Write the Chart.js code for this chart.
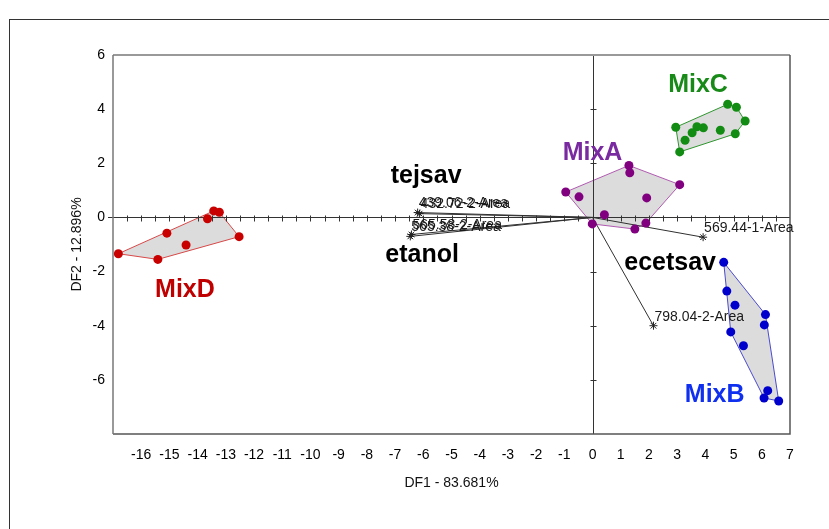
<!DOCTYPE html>
<html>
<head>
<meta charset="utf-8">
<script src="https://cdn.jsdelivr.net/npm/chart.js@4.4.1/dist/chart.umd.min.js"></script>
<style>
  html, body { margin: 0; padding: 0; background: #fff; overflow: hidden; }
  #frame { position: absolute; left: 9px; top: 19px; width: 900px; height: 600px;
           border-left: 1px solid #333; border-top: 1px solid #333; }
  canvas { position: absolute; left: 0; top: 0; }
</style>
</head>
<body>
<div id="frame"></div>
<canvas id="c" width="829" height="529"></canvas>
<script>
// Discriminant scores (DF1, DF2) per mixture
const mixA_x = [1.29, 1.32, 3.09, -0.95, -0.48, 1.92, 0.42, -0.01, 1.89, 1.50];
const mixA_y = [1.92, 1.65, 1.21, 0.94, 0.76, 0.72, 0.10, -0.24, -0.21, -0.43];

const mixB_x = [4.65, 4.76, 5.05, 6.13, 6.09, 4.90, 5.35, 6.21, 6.08, 6.60];
const mixB_y = [-1.66, -2.72, -3.24, -3.59, -3.97, -4.23, -4.74, -6.40, -6.67, -6.78];

const mixC_x = [4.79, 5.10, 5.41, 2.95, 5.06, 4.53, 3.93, 3.70, 3.53, 3.28, 3.09];
const mixC_y = [4.18, 4.07, 3.56, 3.33, 3.09, 3.22, 3.31, 3.35, 3.13, 2.85, 2.42];

const mixD_x = [-16.81, -15.41, -15.09, -14.41, -13.65, -13.43, -13.23, -12.53];
const mixD_y = [-1.34, -1.55, -0.58, -1.02, -0.05, 0.24, 0.19, -0.71];

// Variable loadings (biplot vectors)
const loadingNames = ['439.06-2-Area', '432.72-2-Area', '565.38-2-Area', '565.58-2-Area', '569.44-1-Area', '798.04-2-Area'];
const loadingX = [-6.20, -6.13, -6.46, -6.42, 3.92, 2.16];
const loadingY = [0.18, 0.14, -0.70, -0.63, -0.73, -4.00];

// Axis ticks
const xTicks = [-16, -15, -14, -13, -12, -11, -10, -9, -8, -7, -6, -5, -4, -3, -2, -1, 0, 1, 2, 3, 4, 5, 6, 7];
const yTicks = [-6, -4, -2, 0, 2, 4, 6];

const groupNames = ['MixA', 'MixB', 'MixC', 'MixD'];
const variableNames = ['tejsav', 'etanol', 'ecetsav'];

// Styling per group
const groupStyle = {
  MixA: { point: '#800080', edge: '#b05ab0', text: '#7a2aa0' },
  MixB: { point: '#0000cc', edge: '#4a4ad0', text: '#1030f0' },
  MixC: { point: '#128c12', edge: '#2e962e', text: '#188a18' },
  MixD: { point: '#c80000', edge: '#d84848', text: '#c00000' }
};

// Where the group / variable names are written (in axis units)
const nameAnchors = {
  MixA: [0.0, 2.38], MixB: [4.33, -6.56], MixC: [3.74, 4.89], MixD: [-14.45, -2.68],
  tejsav: [-5.90, 1.53], etanol: [-6.04, -1.39], ecetsav: [2.75, -1.70]
};

const groupData = {
  MixA: [mixA_x, mixA_y], MixB: [mixB_x, mixB_y], MixC: [mixC_x, mixC_y], MixD: [mixD_x, mixD_y]
};

function toPoints(xs, ys) { return xs.map((v, i) => ({ x: v, y: ys[i] })); }

// Monotone-chain convex hull
function convexHull(pts) {
  const p = pts.slice().sort((a, b) => a.x - b.x || a.y - b.y);
  const cross = (o, a, b) => (a.x - o.x) * (b.y - o.y) - (a.y - o.y) * (b.x - o.x);
  const lower = [], upper = [];
  for (const q of p) { while (lower.length >= 2 && cross(lower[lower.length - 2], lower[lower.length - 1], q) <= 0) lower.pop(); lower.push(q); }
  for (let i = p.length - 1; i >= 0; i--) { const q = p[i]; while (upper.length >= 2 && cross(upper[upper.length - 2], upper[upper.length - 1], q) <= 0) upper.pop(); upper.push(q); }
  upper.pop(); lower.pop();
  return lower.concat(upper);
}

const FONT = '"Liberation Sans", Arial, sans-serif';

const biplotDecor = {
  id: 'biplotDecor',
  beforeDatasetsDraw(chart) {
    const { ctx, chartArea: a, scales: { x, y } } = chart;
    ctx.save();
    // group hulls
    groupNames.forEach(g => {
      const hull = convexHull(toPoints(groupData[g][0], groupData[g][1]));
      ctx.beginPath();
      hull.forEach((p, i) => {
        const px = x.getPixelForValue(p.x), py = y.getPixelForValue(p.y);
        if (i) ctx.lineTo(px, py); else ctx.moveTo(px, py);
      });
      ctx.closePath();
      ctx.fillStyle = '#dcdcdc';
      ctx.fill();
      ctx.strokeStyle = groupStyle[g].edge;
      ctx.lineWidth = 1;
      ctx.stroke();
    });
    // zero axes
    const x0 = Math.round(x.getPixelForValue(0)) + 0.5;
    const y0 = Math.round(y.getPixelForValue(0)) + 0.5;
    ctx.strokeStyle = '#333';
    ctx.lineWidth = 1;
    ctx.beginPath();
    ctx.moveTo(a.left - 5, y0); ctx.lineTo(a.right, y0);
    ctx.moveTo(x0, a.top); ctx.lineTo(x0, a.bottom);
    ctx.stroke();
    // minor ticks along the zero lines
    ctx.beginPath();
    for (let v = x.min + 0.5; v < x.max; v += 0.5) {
      const px = Math.round(x.getPixelForValue(v)) + 0.5;
      ctx.moveTo(px, y0 - 2); ctx.lineTo(px, y0 + 4);
    }
    yTicks.forEach(v => {
      if (v === 0) return;
      const py = Math.round(y.getPixelForValue(v)) + 0.5;
      ctx.moveTo(x0 - 3, py); ctx.lineTo(x0 + 3, py);
    });
    ctx.stroke();
    // loading vectors
    ctx.strokeStyle = '#303030';
    ctx.beginPath();
    loadingX.forEach((v, i) => {
      ctx.moveTo(x.getPixelForValue(0), y.getPixelForValue(0));
      ctx.lineTo(x.getPixelForValue(v), y.getPixelForValue(loadingY[i]));
    });
    ctx.stroke();
    ctx.restore();
  },
  afterDraw(chart) {
    const { ctx, chartArea: a, scales: { x, y } } = chart;
    ctx.save();
    // plot frame
    ctx.lineWidth = 2;
    ctx.strokeStyle = '#999';
    ctx.beginPath(); ctx.moveTo(a.left, a.top); ctx.lineTo(a.right, a.top); ctx.stroke();
    ctx.lineWidth = 1.5;
    ctx.strokeStyle = '#555';
    ctx.beginPath();
    ctx.moveTo(a.right, a.top); ctx.lineTo(a.right, a.bottom); ctx.lineTo(a.left, a.bottom);
    ctx.stroke();
    ctx.strokeStyle = '#777';
    ctx.beginPath(); ctx.moveTo(a.left, a.top); ctx.lineTo(a.left, a.bottom); ctx.stroke();

    // loading labels
    ctx.font = '14px ' + FONT;
    ctx.fillStyle = '#1a1a1a';
    ctx.textAlign = 'left';
    ctx.textBaseline = 'middle';
    loadingNames.forEach((n, i) => {
      ctx.fillText(n, x.getPixelForValue(loadingX[i]) + 1, y.getPixelForValue(loadingY[i]) - 9);
    });

    // group and variable names
    ctx.font = 'bold 25px ' + FONT;
    ctx.textAlign = 'center';
    groupNames.forEach(g => {
      ctx.fillStyle = groupStyle[g].text;
      const p = nameAnchors[g];
      ctx.fillText(g, x.getPixelForValue(p[0]), y.getPixelForValue(p[1]));
    });
    ctx.fillStyle = '#000';
    variableNames.forEach(v => {
      const p = nameAnchors[v];
      ctx.fillText(v, x.getPixelForValue(p[0]), y.getPixelForValue(p[1]));
    });

    // axis titles
    ctx.font = '14px ' + FONT;
    ctx.fillStyle = '#111';
    ctx.fillText('DF1 - 83.681%', (a.left + a.right) / 2, 483);
    ctx.translate(77, (a.top + a.bottom) / 2);
    ctx.rotate(-Math.PI / 2);
    ctx.fillText('DF2 - 12.896%', 0, 0);
    ctx.restore();
  }
};

const datasets = groupNames.map(g => ({
  label: g,
  data: toPoints(groupData[g][0], groupData[g][1]),
  pointRadius: 4.5,
  pointHoverRadius: 4.5,
  pointBackgroundColor: groupStyle[g].point,
  pointBorderWidth: 0,
  showLine: false
}));
datasets.push({
  label: 'loadings',
  data: toPoints(loadingX, loadingY),
  pointStyle: 'star',
  pointRadius: 4,
  pointBorderColor: '#222',
  pointBorderWidth: 1,
  showLine: false
});

new Chart(document.getElementById('c'), {
  type: 'scatter',
  data: { datasets },
  options: {
    responsive: false,
    animation: false,
    devicePixelRatio: 1,
    layout: { padding: { left: 0, right: 39, top: 55, bottom: 0 } },
    plugins: { legend: { display: false }, tooltip: { enabled: false } },
    scales: {
      x: {
        type: 'linear', min: -17, max: 7,
        afterBuildTicks: s => { s.ticks = xTicks.map(v => ({ value: v })); },
        afterFit: s => { s.height = 95; },
        grid: { display: false, drawTicks: false },
        border: { display: false },
        ticks: { padding: 13, color: '#000', font: { family: FONT, size: 14 }, maxRotation: 0, autoSkip: false }
      },
      y: {
        type: 'linear', min: -8, max: 6,
        afterBuildTicks: s => { s.ticks = yTicks.map(v => ({ value: v })); },
        afterFit: s => { s.width = 113; },
        grid: { display: false, drawTicks: false },
        border: { display: false },
        ticks: { padding: 8, color: '#000', font: { family: FONT, size: 14 } }
      }
    }
  },
  plugins: [biplotDecor]
});
</script>
</body>
</html>
